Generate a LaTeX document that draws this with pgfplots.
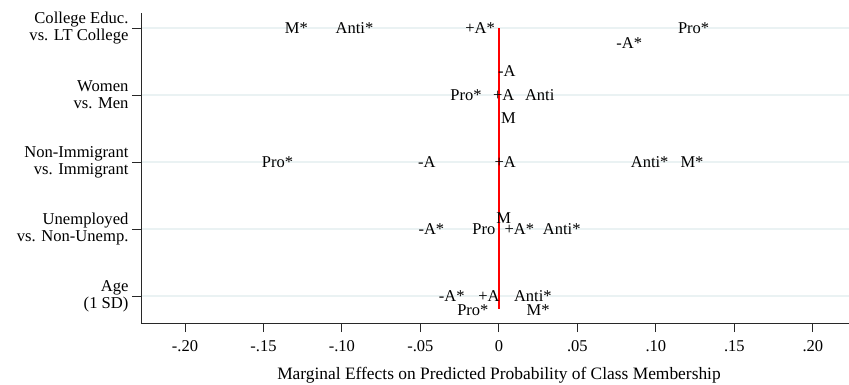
\documentclass[border=0pt]{standalone}
\usepackage{fontspec}
\setmainfont{Liberation Serif}
\usepackage{pgfplots}
\usepackage{pgfplotstable}
\pgfplotsset{compat=1.18}
\definecolor{gridc}{RGB}{234,242,243}
\definecolor{axc}{RGB}{40,40,40}
\pgfplotstableread{
x y label
-0.129 5 M*
-0.092 5 Anti*
-0.012 5 +A*
0.124 5 Pro*
0.083 4.78 -A*
0.005 4.358 -A
-0.021 4 Pro*
0.003 4 +A
0.026 4 Anti
0.006 3.657 M
-0.141 3 Pro*
-0.046 3 -A
0.004 3 +A
0.096 3 Anti*
0.123 3 M*
0.003 2.164 M
-0.043 2 -A*
-0.0096 2 Pro
0.013 2 +A*
0.040 2 Anti*
-0.030 1 -A*
-0.0064 1 +A
0.0216 1 Anti*
-0.0166 0.79 Pro*
0.025 0.79 M*
}\labels
\begin{document}
\begin{tikzpicture}
\begin{axis}[
  at={(0,0)}, anchor=south west,
  scale only axis, width=708pt, height=310pt,
  font=\fontsize{16.5}{17}\selectfont,
  xmin=-0.228, xmax=0.223, ymin=0.597, ymax=5.224,
  axis x line*=bottom, axis y line*=left,
  axis line style={axc, line width=0.9pt, -},
  xtick={-0.2,-0.15,-0.1,-0.05,0,0.05,0.1,0.15,0.2},
  xticklabels={-.20,-.15,-.10,-.05,0,.05,.10,.15,.20},
  xticklabel style={yshift=-5pt},
  ytick={5,4,3,2,1},
  yticklabels={{College Educ.\\vs. LT College},{Women\\vs. Men},{Non-Immigrant\\vs. Immigrant},{Unemployed\\vs. Non-Unemp.},{Age\\(1 SD)}},
  yticklabel style={align=right, font=\fontsize{16.6}{16.7}\selectfont},
  tick align=outside,
  major tick length=9pt,
  tick style={axc, line width=0.9pt},
  xtick pos=bottom, ytick pos=left,
  ymajorgrids, xmajorgrids=false,
  major grid style={gridc, line width=1.3pt},
  xlabel={Marginal Effects on Predicted Probability of Class Membership},
  xlabel style={font=\fontsize{17.4}{18}\selectfont, yshift=-9pt, xshift=4pt},
  clip=false,
]
\addplot[only marks, mark=none, nodes near coords, point meta=explicit symbolic,
  nodes near coords style={anchor=center, inner sep=0pt, text=black}]
  table[x=x, y=y, meta=label] {\labels};
\addplot[red, line width=2.2pt, no marks] coordinates {(0,0.81) (0,5)};
\end{axis}
\pgfresetboundingbox
\path[use as bounding box] (-141pt,-61pt) rectangle (708pt,323pt);
\end{tikzpicture}
\end{document}
